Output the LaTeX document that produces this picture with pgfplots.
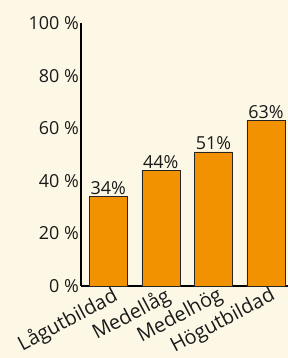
\documentclass[border=0pt]{standalone}
\usepackage{pgfplots}
\pgfplotsset{compat=1.18}
\usepackage{fontspec}
\setmainfont{Open Sans}
\definecolor{bg}{HTML}{FDF8E6}
\definecolor{bar}{HTML}{F39200}
\definecolor{txt}{HTML}{1A1A1A}
\begin{document}
\begin{tikzpicture}
\fill[bg] (-81bp,-72bp) rectangle (207bp,286bp);
\path[use as bounding box] (-81bp,-72bp) rectangle (207bp,286bp);
\begin{axis}[
  at={(0,0)}, anchor=south west,
  scale only axis,
  width=207bp, height=263bp,
  xmin=-0.52, xmax=3.42,
  ymin=0, ymax=100,
  axis lines*=left,
  axis line style={black, line width=1.6bp},
  ytick={0,20,40,60,80,100},
  yticklabel={\pgfmathprintnumber{\tick}~\%},
  /pgf/number format/assume math mode=true,
  major tick length=0pt,
  xtick=data,
  xticklabels={Lågutbildad,Medellåg,Medelhög,Högutbildad},
  ticklabel style={text=txt},
  yticklabel style={inner sep=2bp, font=\fontsize{18}{20}\selectfont},
  xticklabel style={rotate=28, anchor=north east, inner sep=1pt, yshift=0bp, xshift=4bp, font=\fontsize{20}{22}\selectfont},
  nodes near coords={\pgfmathprintnumber{\pgfplotspointmeta}\%},
  nodes near coords style={font=\fontsize{18}{20}\selectfont, text=txt, /pgf/number format/assume math mode=true, inner sep=1.5bp},
  clip=false,
]
\addplot[ybar, bar width=38bp, fill=bar, draw=black!85, line width=0.7bp]
  coordinates {(0,34) (1,44) (2,51) (3,63)};
\end{axis}
\end{tikzpicture}
\end{document}
